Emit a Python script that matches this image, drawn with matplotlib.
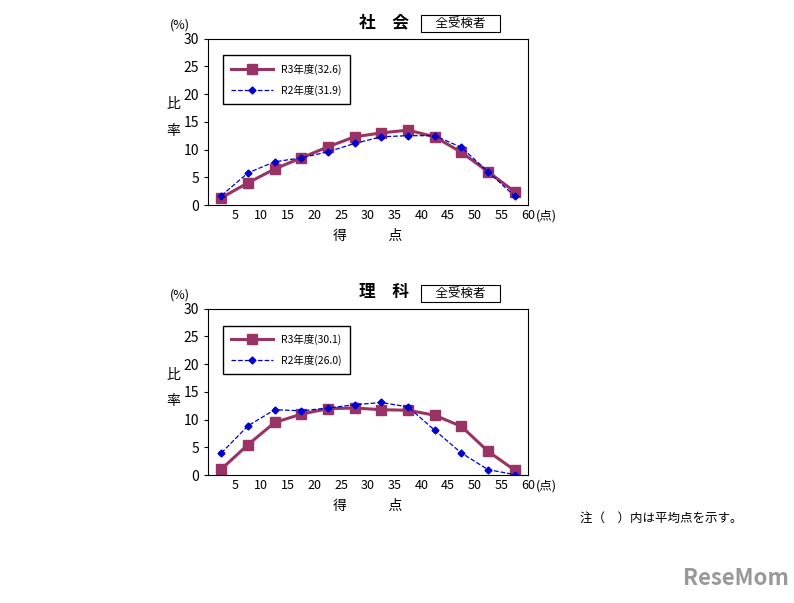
import numpy as np
import matplotlib
matplotlib.use("Agg")
import matplotlib.pyplot as plt

plt.rcParams['font.family'] = ['Noto Sans CJK JP', 'DejaVu Sans']

x_mid = [2.5, 7.5, 12.5, 17.5, 22.5, 27.5, 32.5, 37.5, 42.5, 47.5, 52.5, 57.5]
x_ticks = [5, 10, 15, 20, 25, 30, 35, 40, 45, 50, 55, 60]
x_labels = ["5", "10", "15", "20", "25", "30", "35", "40", "45", "50", "55", "60"]

soc_r3 = [1.3, 4.0, 6.5, 8.5, 10.5, 12.3, 13.0, 13.5, 12.3, 9.5, 6.0, 2.4]
soc_r2 = [1.7, 5.8, 7.8, 8.5, 9.6, 11.1, 12.3, 12.5, 12.5, 10.4, 6.0, 1.6]
sci_r3 = [1.1, 5.5, 9.5, 11.0, 12.0, 12.1, 11.8, 11.7, 10.8, 8.8, 4.3, 0.9]
sci_r2 = [4.0, 8.9, 11.8, 11.6, 12.1, 12.7, 13.1, 12.3, 8.1, 4.0, 1.0, 0.1]

panels = [
    ("社　会", soc_r3, soc_r2, "R3年度(32.6)", "R2年度(31.9)", 0.660),
    ("理　科", sci_r3, sci_r2, "R3年度(30.1)", "R2年度(26.0)", 0.212),
]

fig = plt.figure(figsize=(7.94, 6.03), dpi=100)
for title, r3, r2, l3, l2, bottom in panels:
    ax = fig.add_axes([0.262, bottom, 0.403, 0.276])
    ax.plot(x_mid, r3, color="#993366", lw=2.2, marker="s", ms=6.5, label=l3)
    ax.plot(x_mid, r2, color="#0000CC", lw=0.9, ls="--", marker="D", ms=3.5, label=l2)
    ax.set_xlim(0, 60)
    ax.set_ylim(0, 30)
    ax.set_yticks(range(0, 31, 5))
    ax.set_xticks(x_ticks)
    ax.set_xticklabels(x_labels, fontsize=9)
    ax.tick_params(axis="x", length=0, pad=3)
    ax.tick_params(axis="y", labelsize=10, length=3)
    ax.legend(loc="upper left", bbox_to_anchor=(0.03, 0.93), fontsize=7.5,
              fancybox=False, edgecolor="black", framealpha=1, handlelength=4,
              borderpad=0.8, labelspacing=0.9)
    ax.text(1.025, -0.085, "(点)", transform=ax.transAxes, fontsize=9)
    ax.text(-0.12, 1.06, "(%)", transform=ax.transAxes, fontsize=9)
    ax.text(-0.13, 0.58, "比", transform=ax.transAxes, fontsize=10)
    ax.text(-0.13, 0.42, "率", transform=ax.transAxes, fontsize=10)
    ax.text(0.5, -0.21, "得　　　点", transform=ax.transAxes, fontsize=10, ha="center")
    ax.text(0.55, 1.07, title, transform=ax.transAxes, fontsize=12, ha="center",
            fontweight="bold")
    ax.text(0.79, 1.07, "　全受検者　", transform=ax.transAxes, fontsize=9, ha="center",
            bbox=dict(boxstyle="square,pad=0.15", fc="white", ec="black", lw=0.8))
    for s in ax.spines.values():
        s.set_linewidth(0.8)

fig.text(0.73, 0.135, "注（　）内は平均点を示す。", fontsize=9)
fig.text(0.86, 0.03, "ReseMom", fontsize=16, color="#999999", fontweight="bold")
fig.savefig("out.png", dpi=100)
